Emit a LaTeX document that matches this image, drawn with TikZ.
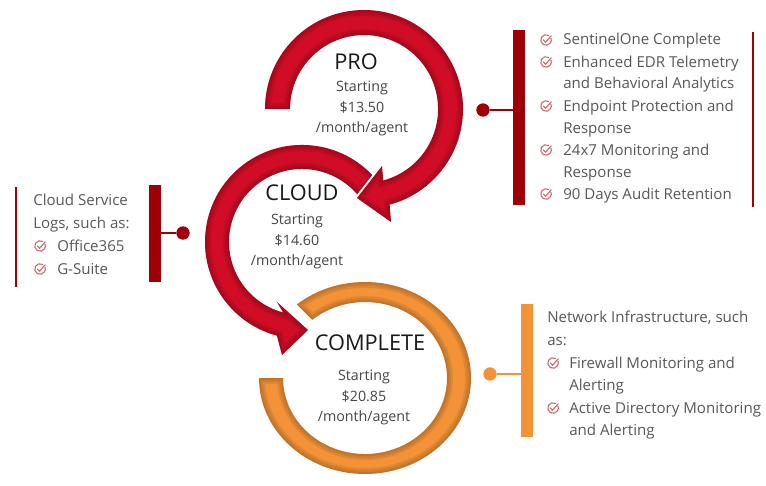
\documentclass[tikz,border=0pt]{standalone}
\usepackage{fontspec}
\setmainfont{Open Sans}
\usepackage{tikz}

\definecolor{procol}{RGB}{208,12,38}
\definecolor{barcol}{RGB}{158,0,8}
\definecolor{orcol}{RGB}{243,146,55}
\definecolor{txtcol}{RGB}{88,88,88}
\definecolor{okcol}{RGB}{205,100,108}

% outlines of the three arrows
\tikzset{
  propath/.style = {insert path={(265,109) arc[start angle=-180, end angle=75, radius=99] -- (391,222) -- (357,198) -- (382,166) -- (383.2,180.5) arc[start angle=75, end angle=-180, radius=74] -- cycle}},
  cloudpath/.style = {insert path={(376.3,179.6) arc[start angle=-40, end angle=-255, radius=97] -- (282,355) -- (308,330) -- (277,302) -- (283.1,312.5) arc[start angle=-255, end angle=-40, radius=73] -- cycle}},
  ringpath/.style = {insert path={(259,378) arc[start angle=-180, end angle=-490, x radius=106, y radius=96] -- (312.3,319.8) arc[start angle=-490, end angle=-180, x radius=82, y radius=76] -- cycle}}
}
\newcommand\innershade[1]{\begin{scope}\clip[#1];
  \foreach \w in {9,6,3} \draw[black, opacity=.07, line width=\w pt, #1];
\end{scope}}

\begin{document}
\begin{tikzpicture}[x=0.75pt, y=-0.75pt,
  item/.style = {anchor=base west, inner sep=0, text=txtcol, font=\fontsize{11.3}{13}\selectfont},
  title/.style = {anchor=base, inner sep=0, text=black!90, font=\fontsize{16.3}{18}\selectfont},
  price/.style = {anchor=base, inner sep=0, text=txtcol!80!black, font=\fontsize{10.7}{12}\selectfont},
  bar/.style = {rectangle, fill=barcol, inner sep=0, minimum width=9pt},
  dot/.style = {circle, fill=barcol, inner sep=0, minimum size=10pt},
  link/.style = {draw=barcol, line width=2.2pt},
  okmark/.pic = {
    \draw[okcol, line width=0.8pt, line cap=round] (-60:5.3) arc[start angle=-60, end angle=-380, radius=5.3];
    \draw[okcol, line width=0.8pt, line cap=round, line join=round] (-2.6,0) -- (-0.5,2.3) -- (5.2,-4.2);
  }]
\fill[white] (0,0) rectangle (766,485);
\useasboundingbox (0,0) rectangle (766,485);

% the three steps
\fill[orcol, ringpath];
\innershade{ringpath}
\fill[white, draw=white, line width=3pt, cloudpath];
\fill[procol, cloudpath];
\innershade{cloudpath}
\fill[white, draw=white, line width=3pt, propath];
\fill[procol, propath];
\innershade{propath}

\node[title] (pro) at (356,69.5) {PRO};
\node[price] (pro1) at (362,91) {Starting};
\node[price] (pro2) at (362,112) {\$13.50};
\node[price] (pro3) at (362,132) {/month/agent};

\node[title] (cloud) at (302,200.5) {CLOUD};
\node[price] (cloud1) at (297,224) {Starting};
\node[price] (cloud2) at (297,245) {\$14.60};
\node[price] (cloud3) at (297,265) {/month/agent};

\node[title] (complete) at (370,350.5) {COMPLETE};
\node[price] (complete1) at (364,380) {Starting};
\node[price] (complete2) at (364,401) {\$20.85};
\node[price] (complete3) at (364,421) {/month/agent};

% PRO features
\node[bar, minimum height=131.25pt] (probar) at (519,117.5) {};
\node[dot] (prodot) at (483,110) {};
\draw[link] (prodot) -- (prodot -| probar.west);
\draw[barcol, line width=2pt] (753,32) -- (753,207);
\foreach \y/\t [count=\i] in {40/SentinelOne Complete, 62/Enhanced EDR Telemetry, 84/and Behavioral Analytics, 106/Endpoint Protection and, 128/Response, 150/24x7 Monitoring and, 172/Response, 194/90 Days Audit Retention}
  \node[item] (proitem\i) at (563,{\y+5}) {\t};
\foreach \y in {40,62,106,150,194}
  \pic at (546,\y) {okmark};

% CLOUD features
\node[bar, minimum height=72.75pt] (cloudbar) at (154.5,233.5) {};
\node[dot] (clouddot) at (183,233) {};
\draw[link] (clouddot) -- (clouddot -| cloudbar.east);
\draw[barcol, line width=2pt] (16,187) -- (16,287);
\node[item] (clouditem1) at (33,205) {Cloud Service};
\node[item] (clouditem2) at (33,228) {Logs, such as:};
\node[item] (clouditem3) at (57,251) {Office365};
\node[item] (clouditem4) at (57,274) {G-Suite};
\foreach \y in {246,269}
  \pic at (40,\y) {okmark};

% COMPLETE features
\node[bar, fill=orcol, minimum height=99.75pt] (compbar) at (527,370.5) {};
\node[dot, fill=orcol] (compdot) at (490,374) {};
\draw[link, draw=orcol] (compdot) -- (compdot -| compbar.west);
\node[item] (compitem1) at (547,322) {Network Infrastructure, such};
\node[item] (compitem2) at (547,345) {as:};
\foreach \y/\t [count=\i from 3] in {363/Firewall Monitoring and, 385/Alerting, 408/Active Directory Monitoring, 430/and Alerting}
  \node[item] (compitem\i) at (569,{\y+5}) {\t};
\foreach \y in {363,408}
  \pic at (553,\y) {okmark};
\end{tikzpicture}
\end{document}
